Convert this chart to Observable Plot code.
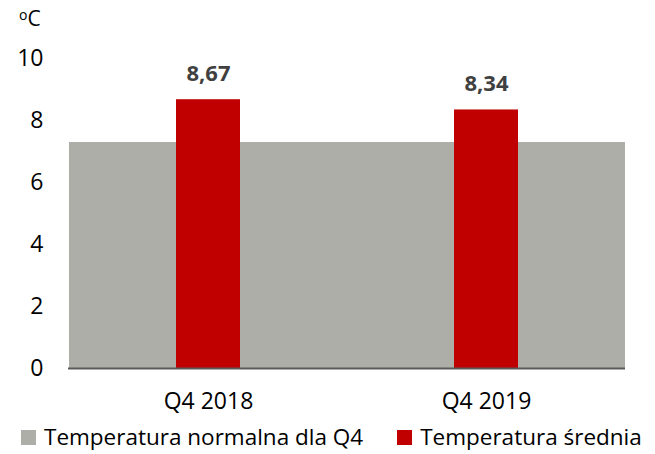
<!DOCTYPE html>
<html>
<head>
<meta charset="utf-8">
<script src="https://cdn.jsdelivr.net/npm/d3@7"></script>
<script src="https://cdn.jsdelivr.net/npm/@observablehq/plot@0.6"></script>
<style>
  html, body { margin: 0; padding: 0; background: #fff; }
  #wrap { position: relative; width: 655px; height: 454px; font-family: "Open Sans", sans-serif; color: #000; }
  #unit { position: absolute; left: 19px; top: 4px; font-size: 21px; line-height: 29px; }
  #unit sup { font-size: 14px; vertical-align: 6px; line-height: 0; }
  #legend { position: absolute; left: 21px; top: 422px; font-size: 22.5px; line-height: 29px; white-space: nowrap; }
  .item { display: inline-block; }
  .sw { display: inline-block; width: 15px; height: 15px; margin-right: 8px; vertical-align: baseline; }
</style>
</head>
<body>
<div id="wrap">
  <div id="chart"></div>
  <div id="unit"><sup>o</sup>C</div>
  <div id="legend"></div>
</div>
<script>
const categories = ["Q4 2018", "Q4 2019"];
const averageTemp = [8.67, 8.34];
const normalTemp = [7.3, 7.3];
const yTicks = [0, 2, 4, 6, 8, 10];
const seriesNames = ["Temperatura normalna dla Q4", "Temperatura średnia"];
const seriesColors = ["#AEAEA9", "#C00000"];

const data = categories.map((c, i) => ({cat: c, avg: averageTemp[i], norm: normalTemp[i]}));
const fmt = v => v.toFixed(2).replace(".", ",");

const plot = Plot.plot({
  width: 655,
  height: 420,
  marginLeft: 68,
  marginRight: 30,
  marginTop: 58,
  marginBottom: 52,
  style: {fontFamily: "'Open Sans', sans-serif", fontSize: "23px", color: "#000", background: "#fff", overflow: "visible"},
  x: {domain: categories, padding: 0, label: null},
  y: {domain: [0, 10], ticks: yTicks, label: null},
  marks: [
    Plot.barY(data, {x: "cat", y: "norm", fill: seriesColors[0], shapeRendering: "crispEdges"}),
    Plot.barY(data, {x: "cat", y: "avg", fill: seriesColors[1], insetLeft: 107, insetRight: 107}),
    Plot.text(data, {x: "cat", y: "avg", text: d => fmt(d.avg), dy: -26, fontWeight: "bold", fill: "#404040", fontSize: 22}),
    Plot.axisY({ticks: yTicks, tickSize: 0, tickPadding: 25, tickFormat: d => String(d), fontSize: 23}),
    Plot.axisX({tickSize: 0, tickPadding: 24, fontSize: 23}),
    Plot.ruleX([0], {frameAnchor: "left", stroke: "#7f7f7f", strokeWidth: 1}),
    Plot.ruleY([0], {stroke: "#595959", strokeWidth: 2})
  ]
});
document.getElementById("chart").appendChild(plot);

const legend = document.getElementById("legend");
seriesNames.forEach((name, i) => {
  const item = document.createElement("span");
  item.className = "item";
  item.style.marginRight = i === 0 ? "34px" : "0";
  const sw = document.createElement("span");
  sw.className = "sw";
  sw.style.background = seriesColors[i];
  item.appendChild(sw);
  item.appendChild(document.createTextNode(name));
  legend.appendChild(item);
});
</script>
</body>
</html>
